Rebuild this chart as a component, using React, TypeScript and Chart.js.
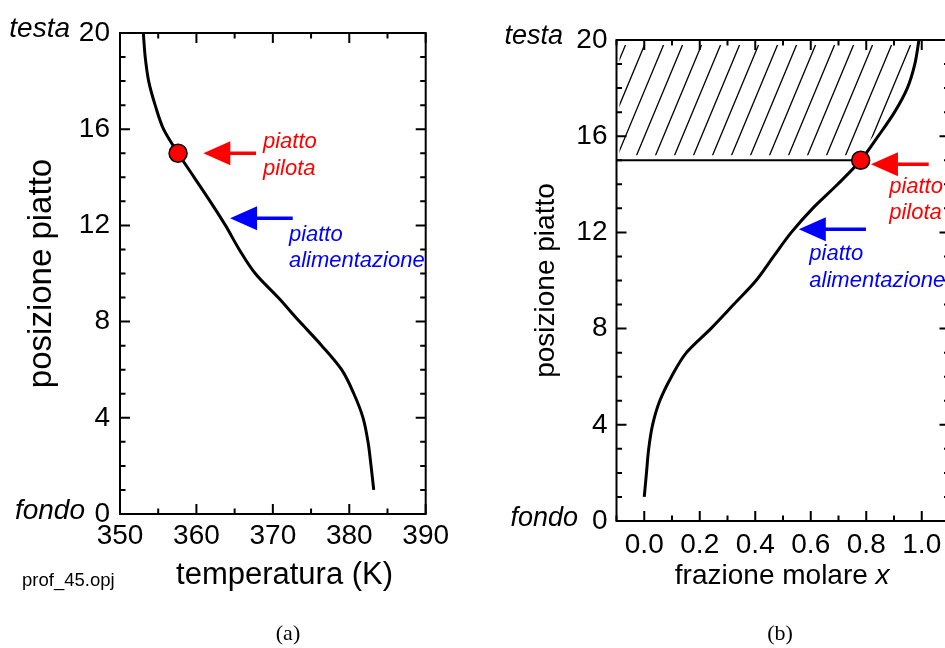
import { useEffect, useRef } from 'react';
import { Chart, registerables } from 'chart.js';

Chart.register(...registerables);
Chart.defaults.font.family = '"Liberation Sans", Arial, sans-serif';
Chart.defaults.color = '#000';

// ---------------- data ----------------
const posizioni = [1, 2, 3, 4, 5, 6, 7, 8, 9, 10, 11, 12, 13, 14, 15, 16, 17, 18, 19, 20];
const temperatura = [383.2, 382.85, 382.45, 381.8, 380.6, 379.0, 376.4, 373.5, 370.7, 367.7, 365.6, 363.8, 361.8, 359.7, 357.6, 355.7, 354.6, 353.75, 353.3, 353.05];
const frazione = [0.0, 0.008, 0.016, 0.03, 0.056, 0.098, 0.152, 0.24, 0.322, 0.403, 0.466, 0.53, 0.607, 0.697, 0.78, 0.843, 0.902, 0.948, 0.975, 0.99];

const piattoPilota = 15;
const yTickLabels = [0, 4, 8, 12, 16, 20];
const xTickLabelsA = [350, 360, 370, 380, 390];
const xTickLabelsB = ['0.0', '0.2', '0.4', '0.6', '0.8', '1.0'];

// arrows: [tipX, tipY, tailX]
const frecciaPilotaA = [360.9, 15.0, 367.8];
const frecciaAlimA = [364.4, 12.3, 372.6];
const frecciaPilotaB = [0.817, 14.83, 1.025];
const frecciaAlimB = [0.557, 12.13, 0.799];

// labels: [x, y of first baseline]
const testoPilotaA = [368.7, 15.2];
const testoAlimA = [372.1, 11.36];
const testoPilotaB = [0.8825, 13.65];
const testoAlimB = [0.595, 10.85];
const righePilota = ['piatto', 'pilota'];
const righeAlim = ['piatto', 'alimentazione'];

const RED = '#ff0000';
const BLUE = '#0000ff';

function drawArrow(ctx: CanvasRenderingContext2D, tx: number, ty: number, tail: number, color: string) {
  const headLen = 27, headHalf = 12;
  ctx.save();
  ctx.fillStyle = color;
  ctx.strokeStyle = color;
  ctx.beginPath();
  ctx.moveTo(tx, ty);
  ctx.lineTo(tx + headLen, ty - headHalf);
  ctx.lineTo(tx + headLen, ty + headHalf);
  ctx.closePath();
  ctx.fill();
  ctx.lineWidth = 3.5;
  ctx.beginPath();
  ctx.moveTo(tx + headLen - 1, ty);
  ctx.lineTo(tail, ty);
  ctx.stroke();
  ctx.restore();
}

function drawLabel(ctx: CanvasRenderingContext2D, x: number, y: number, lines: string[], color: string) {
  ctx.save();
  ctx.font = 'italic 22px "Liberation Sans"';
  ctx.fillStyle = color;
  ctx.textAlign = 'left';
  ctx.textBaseline = 'alphabetic';
  lines.forEach((l, i) => ctx.fillText(l, x, y + i * 26.5));
  ctx.restore();
}

type Spec = {
  majorX: (v: number) => boolean;
  arrows: { a: number[]; color: string }[];
  labels: { t: number[]; lines: string[]; color: string }[];
  hatch: boolean;
  testaOff: number;
  fondoOff: number;
  endFont: number;
  extra: (chart: any) => void;
};

function makePlugin(spec: Spec) {
  return {
    id: 'decor',
    beforeDatasetsDraw(chart: any) {
      if (!spec.hatch) return;
      const { ctx, chartArea: a, scales } = chart;
      const x = scales.x, y = scales.y;
      const yTop = y.getPixelForValue(20);
      const yBot = y.getPixelForValue(piattoPilota);
      ctx.save();
      ctx.beginPath();
      ctx.rect(a.left + 3, yTop + 5, a.width, yBot - 5 - (yTop + 5));
      ctx.clip();
      ctx.beginPath();
      ctx.moveTo(a.left, yTop - 10);
      for (let i = posizioni.length - 1; i >= 0; i--) {
        if (posizioni[i] < piattoPilota - 1) break;
        ctx.lineTo(x.getPixelForValue(frazione[i]) - 5, y.getPixelForValue(posizioni[i]));
      }
      ctx.lineTo(a.left, yBot + 10);
      ctx.closePath();
      ctx.clip();
      ctx.strokeStyle = '#000';
      ctx.lineWidth = 1.3;
      const slope = 2.4, step = 19;
      const h = yBot - yTop;
      for (let bx = a.left + 18 - step * 10; bx < a.right; bx += step) {
        ctx.beginPath();
        ctx.moveTo(bx, yBot);
        ctx.lineTo(bx + h / slope, yTop);
        ctx.stroke();
      }
      ctx.restore();
      // horizontal line at pilot plate
      const idx = posizioni.indexOf(piattoPilota);
      ctx.save();
      ctx.strokeStyle = '#000';
      ctx.lineWidth = 2;
      ctx.beginPath();
      ctx.moveTo(a.left, yBot);
      ctx.lineTo(x.getPixelForValue(frazione[idx]), yBot);
      ctx.stroke();
      ctx.restore();
    },
    afterDatasetsDraw(chart: any) {
      const { ctx, chartArea: a, scales } = chart;
      const x = scales.x, y = scales.y;
      ctx.save();
      ctx.strokeStyle = '#000';
      ctx.lineWidth = 2;
      ctx.strokeRect(a.left, a.top, a.right - a.left, a.bottom - a.top);
      x.ticks.forEach((t: any) => {
        const px = x.getPixelForValue(t.value);
        const len = spec.majorX(t.value) ? 10 : 5.5;
        ctx.beginPath();
        ctx.moveTo(px, a.bottom); ctx.lineTo(px, a.bottom - len);
        ctx.moveTo(px, a.top); ctx.lineTo(px, a.top + len);
        ctx.stroke();
      });
      y.ticks.forEach((t: any) => {
        const py = y.getPixelForValue(t.value);
        const len = Math.round(t.value) % 4 === 0 ? 10 : 5.5;
        ctx.beginPath();
        ctx.moveTo(a.left, py); ctx.lineTo(a.left + len, py);
        ctx.moveTo(a.right, py); ctx.lineTo(a.right - len, py);
        ctx.stroke();
      });
      ctx.restore();

      spec.arrows.forEach((ar) => {
        drawArrow(ctx, x.getPixelForValue(ar.a[0]), y.getPixelForValue(ar.a[1]), x.getPixelForValue(ar.a[2]), ar.color);
      });
      spec.labels.forEach((lb) => {
        drawLabel(ctx, x.getPixelForValue(lb.t[0]), y.getPixelForValue(lb.t[1]), lb.lines, lb.color);
      });

      ctx.save();
      ctx.font = `italic ${spec.endFont}px "Liberation Sans"`;
      ctx.fillStyle = '#000';
      ctx.textAlign = 'right';
      ctx.textBaseline = 'middle';
      ctx.fillText('testa', a.left - spec.testaOff, y.getPixelForValue(20) - 4);
      ctx.fillText('fondo', a.left - spec.fondoOff, y.getPixelForValue(0) - 3);
      ctx.restore();
      spec.extra(chart);
    },
  };
}

function baseOptions(opts: any) {
  return {
    responsive: false,
    maintainAspectRatio: false,
    animation: false,
    indexAxis: 'y',
    events: [],
    layout: { padding: opts.padding },
    plugins: { legend: { display: false }, tooltip: { enabled: false } },
    scales: {
      x: {
        type: 'linear',
        position: 'bottom',
        min: opts.xMin,
        max: opts.xMax,
        grid: { display: false, drawTicks: false },
        border: { display: false },
        ticks: {
          stepSize: opts.xStep,
          autoSkip: false,
          maxRotation: 0,
          padding: opts.xTickPad,
          color: '#000',
          font: { size: 28 },
          callback: opts.xCallback,
        },
        title: {
          display: true,
          text: opts.xTitle,
          color: '#000',
          font: { size: opts.xTitleSize },
          padding: { top: 0, bottom: 0 },
        },
        afterFit: (s: any) => { s.height = opts.xHeight; },
      },
      y: {
        type: 'linear',
        position: 'left',
        min: 0,
        max: 20,
        grid: { display: false, drawTicks: false },
        border: { display: false },
        ticks: {
          stepSize: 1,
          autoSkip: false,
          padding: opts.yTickPad,
          color: '#000',
          font: { size: 28 },
          callback: (v: number) => (yTickLabels.includes(Math.round(v)) && Math.abs(v - Math.round(v)) < 1e-6 ? String(Math.round(v)) : ''),
        },
        title: {
          display: true,
          text: 'posizione piatto',
          color: '#000',
          font: { size: opts.yTitleSize },
          padding: { top: opts.yTitlePad, bottom: 0 },
        },
        afterFit: (s: any) => { s.width = opts.yWidth; },
      },
    },
  };
}

const TITLE_A = '  \u2009temperatura (K)';
const TITLE_B = 'frazione molare   ';

const curveStyle = {
  borderColor: '#000',
  borderWidth: 3,
  pointRadius: 0,
  cubicInterpolationMode: 'monotone',
  fill: false,
};

const pilotStyle = {
  showLine: false,
  pointRadius: 9,
  pointBackgroundColor: RED,
  pointBorderColor: '#000',
  pointBorderWidth: 1.5,
};

export default function App() {
  const refA = useRef<HTMLCanvasElement>(null);
  const refB = useRef<HTMLCanvasElement>(null);

  useEffect(() => {
    const idx = posizioni.indexOf(piattoPilota);

    const chartA = new Chart(refA.current as HTMLCanvasElement, {
      type: 'line',
      data: {
        datasets: [
          { ...pilotStyle, data: [{ x: temperatura[idx], y: piattoPilota }] },
          { ...curveStyle, data: posizioni.map((p, i) => ({ x: temperatura[i], y: p })) },
        ],
      } as any,
      options: baseOptions({
        padding: { left: 0, top: 33, right: 44.3, bottom: 54 },
        xMin: 350, xMax: 390, xStep: 5, xTickPad: 5,
        xCallback: (v: number) => (xTickLabelsA.includes(Math.round(v)) ? String(Math.round(v)) : ''),
        xTitle: TITLE_A, xTitleSize: 31, xHeight: 80,
        yTickPad: 10, yTitleSize: 33, yTitlePad: 22, yWidth: 120,
      }) as any,
      plugins: [
        makePlugin({
          majorX: (v) => Math.round(v) % 10 === 0,
          arrows: [
            { a: frecciaPilotaA, color: RED },
            { a: frecciaAlimA, color: BLUE },
          ],
          labels: [
            { t: testoPilotaA, lines: righePilota, color: RED },
            { t: testoAlimA, lines: righeAlim, color: BLUE },
          ],
          hatch: false,
          testaOff: 50,
          fondoOff: 35,
          endFont: 28,
          extra: (chart: any) => {
            const ctx = chart.ctx;
            ctx.save();
            ctx.fillStyle = '#000';
            ctx.font = '18.5px "Liberation Sans"';
            ctx.textAlign = 'left';
            ctx.textBaseline = 'middle';
            ctx.fillText('prof_45.opj', 22, 581);
            ctx.font = '22px "Liberation Serif"';
            ctx.textAlign = 'center';
            ctx.fillText('(a)', 288, 634);
            ctx.restore();
          },
        }) as any,
      ],
    });

    const chartB = new Chart(refB.current as HTMLCanvasElement, {
      type: 'line',
      data: {
        datasets: [
          { ...pilotStyle, data: [{ x: frazione[idx], y: piattoPilota }] },
          { ...curveStyle, data: posizioni.map((p, i) => ({ x: frazione[i], y: p })) },
        ],
      } as any,
      options: baseOptions({
        padding: { left: 0, top: 40, right: 9.5, bottom: 55.2 },
        xMin: -0.1, xMax: 1.1, xStep: 0.1, xTickPad: 7.2,
        xCallback: (v: number) => {
          const s = (Math.round(v * 10) / 10).toFixed(1);
          return xTickLabelsB.includes(s) ? s : '';
        },
        xTitle: TITLE_B, xTitleSize: 28, xHeight: 71.8,
        yTickPad: 9, yTitleSize: 28, yTitlePad: 59, yWidth: 146.5,
      }) as any,
      plugins: [
        makePlugin({
          majorX: (v) => Math.round(v * 10) % 2 === 0,
          arrows: [
            { a: frecciaPilotaB, color: RED },
            { a: frecciaAlimB, color: BLUE },
          ],
          labels: [
            { t: testoPilotaB, lines: righePilota, color: RED },
            { t: testoAlimB, lines: righeAlim, color: BLUE },
          ],
          hatch: true,
          testaOff: 53.5,
          fondoOff: 38.5,
          endFont: 27,
          extra: (chart: any) => {
            const ctx = chart.ctx;
            const xs = chart.scales.x;
            ctx.save();
            ctx.fillStyle = '#000';
            ctx.font = '28px "Liberation Sans"';
            const full = ctx.measureText(TITLE_B).width;
            const cx = (xs.left + xs.right) / 2;
            const start = cx - full / 2 + ctx.measureText('frazione molare ').width;
            const ty = xs.bottom - 28 * 1.2 / 2;
            ctx.font = 'italic 28px "Liberation Sans"';
            ctx.textAlign = 'left';
            ctx.textBaseline = 'middle';
            ctx.fillText('x', start, ty);
            ctx.font = '22px "Liberation Serif"';
            ctx.textAlign = 'center';
            ctx.fillText('(b)', 310, 634);
            ctx.restore();
          },
        }) as any,
      ],
    });

    return () => {
      chartA.destroy();
      chartB.destroy();
    };
  }, []);

  return (
    <div style={{ position: 'fixed', left: 0, top: 0, width: 945, height: 648, overflow: 'hidden', background: '#fff' }}>
      <canvas ref={refA} width={470} height={648} style={{ position: 'absolute', left: 0, top: 0, width: 470, height: 648 }} />
      <canvas ref={refB} width={490} height={648} style={{ position: 'absolute', left: 470, top: 0, width: 490, height: 648 }} />
    </div>
  );
}
